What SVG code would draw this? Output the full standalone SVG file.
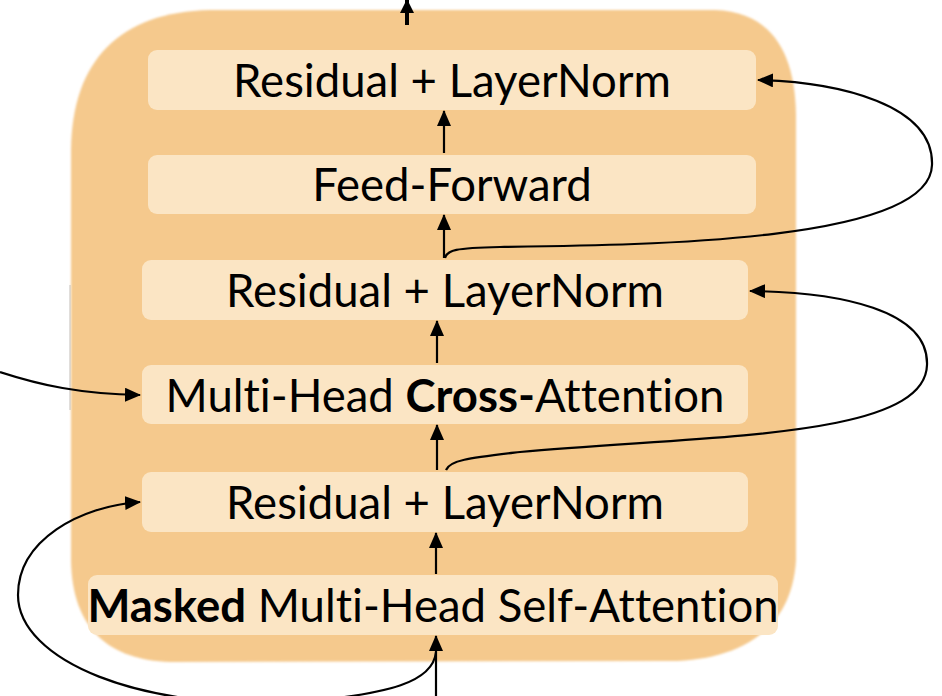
<svg xmlns="http://www.w3.org/2000/svg" width="942" height="696" viewBox="0 0 942 696">
<style>
.box{fill:#FBE5C4;}
.lbl{font-family:Lato,"Liberation Sans",sans-serif;font-size:45.5px;fill:#000;text-anchor:middle;font-variant-ligatures:none;font-feature-settings:"liga" 0;}
.b{font-weight:bold;}
.con{fill:none;stroke:#000;stroke-width:2.2;}
</style>
<defs>
<marker id="ah" markerUnits="userSpaceOnUse" markerWidth="16" markerHeight="14" refX="15" refY="7" orient="auto" viewBox="0 0 16 14">
<path d="M0,0 L16,7 L0,14 z" fill="#000"/>
</marker>
<marker id="ahT" markerUnits="userSpaceOnUse" markerWidth="14" markerHeight="14" refX="13" refY="7" orient="auto" viewBox="0 0 14 14">
<path d="M0,0 L14,7 L0,14 z" fill="#000"/>
</marker>
<filter id="soft" x="-5%" y="-5%" width="110%" height="110%">
<feGaussianBlur stdDeviation="1.2"/>
</filter>
</defs>
<g id="background">
<path d="M71 150 C72 60 120 12 210 10 L715 10 C770 12 795 50 796 115 L796 560 C792 630 740 660 670 661 L170 662 C110 660 72 630 71 560 Z" fill="#F5C98D" filter="url(#soft)"/>
<path d="M70 285 L70 410" stroke="#888" stroke-width="1.2" opacity="0.4" fill="none"/>
</g>
<g id="n1">
<rect class="box" x="148" y="50" width="608" height="60" rx="9"/>
<text class="lbl" x="452" y="97">Residual + LayerNorm</text>
</g>
<g id="n2">
<rect class="box" x="148" y="155" width="608" height="59" rx="9"/>
<text class="lbl" x="452" y="201">Feed-Forward</text>
</g>
<g id="n3">
<rect class="box" x="142" y="260" width="606" height="60" rx="9"/>
<text class="lbl" x="445" y="307">Residual + LayerNorm</text>
</g>
<g id="n4">
<rect class="box" x="142" y="365" width="606" height="59" rx="9"/>
<text class="lbl" x="445" y="412">Multi-Head <tspan class="b">Cross-</tspan>Attention</text>
</g>
<g id="n5">
<rect class="box" x="142" y="472" width="606" height="60" rx="9"/>
<text class="lbl" x="445" y="519">Residual + LayerNorm</text>
</g>
<g id="n6">
<rect class="box" x="88" y="575" width="690" height="60" rx="9"/>
<text class="lbl" x="433" y="622"><tspan class="b">Masked</tspan> Multi-Head Self-Attention</text>
</g>
<g id="connectors">
<path d="M407 25 L407 0" fill="none" stroke="#000" stroke-width="4" marker-end="url(#ahT)"/>
<path class="con" d="M444 153 L444 111" marker-end="url(#ah)"/>
<path class="con" d="M444 258 L444 215" marker-end="url(#ah)"/>
<path class="con" d="M437 363 L437 321" marker-end="url(#ah)"/>
<path class="con" d="M437 470 L437 425" marker-end="url(#ah)"/>
<path class="con" d="M436 574 L436 533" marker-end="url(#ah)"/>
<path class="con" d="M436 696 L436 636" marker-end="url(#ah)"/>
<path class="con" d="M445 258 C447 250 455 248 500 247 C650 245 930 242 932 165 C934 105 840 82 758 80" marker-end="url(#ah)"/>
<path class="con" d="M446 470 C450 460 470 458 520 452 C700 435 925 440 927 365 C929 310 840 292 750 291" marker-end="url(#ah)"/>
<path class="con" d="M0 372 C40 385 80 394 140 395" marker-end="url(#ah)"/>
<path class="con" d="M436 652 C433 682 390 694 300 702 C140 712 18 660 18 595 C18 540 80 506 140 502" marker-end="url(#ah)"/>
</g>
</svg>
